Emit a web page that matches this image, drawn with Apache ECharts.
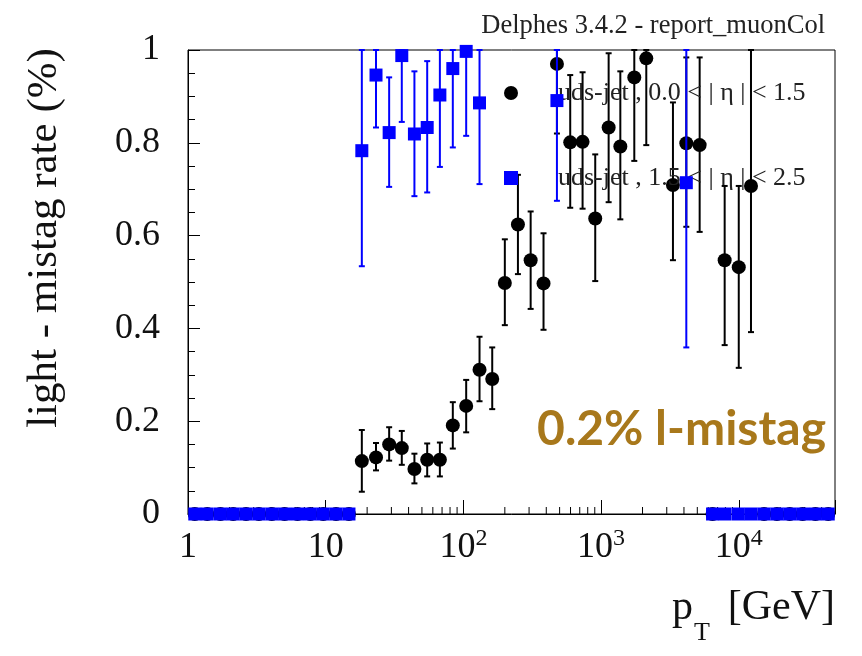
<!DOCTYPE html>
<html>
<head>
<meta charset="utf-8">
<script src="https://cdn.jsdelivr.net/npm/echarts@6/dist/echarts.min.js"></script>
<style>
  html, body { margin: 0; padding: 0; background: #fff; }
  #chart { width: 862px; height: 656px; }
</style>
</head>
<body>
<div id="chart"></div>
<script>
/* ---------------------------- data from the plot --------------------------- */
// uds-jet, 0.0 < |eta| < 1.5  (black circles)
const blackPt = [18.3, 23.2, 28.9, 35.7, 44.1, 54.6, 67.5, 83.8, 104.8, 131, 162, 200, 249, 308, 382, 478, 597, 734, 907, 1135, 1380, 1743, 2130, 3327, 4160, 5200, 7900, 10000, 12270];
const blackRate = [0.114, 0.122, 0.150, 0.142, 0.097, 0.117, 0.117, 0.191, 0.233, 0.311, 0.291, 0.498, 0.624, 0.547, 0.497, 0.970, 0.801, 0.802, 0.637, 0.833, 0.792, 0.941, 0.982, 0.709, 0.799, 0.795, 0.547, 0.532, 0.707];
const blackLow = [0.048, 0.094, 0.115, 0.106, 0.066, 0.081, 0.081, 0.141, 0.176, 0.243, 0.226, 0.407, 0.517, 0.442, 0.397, 0.820, 0.660, 0.658, 0.502, 0.672, 0.635, 0.761, 0.795, 0.547, 0.619, 0.608, 0.364, 0.315, 0.392];
const blackHigh = [0.181, 0.153, 0.187, 0.179, 0.130, 0.152, 0.154, 0.241, 0.289, 0.382, 0.359, 0.592, 0.731, 0.652, 0.605, 1.0, 0.946, 0.952, 0.775, 0.993, 0.954, 1.0, 1.0, 0.887, 0.984, 0.984, 0.707, 0.707, 1.0];
const blackZeroPt = [1.12, 1.38, 1.72, 2.13, 2.64, 3.27, 4.06, 5.03, 6.24, 7.74, 9.6, 11.9, 14.76, 6450, 15270, 18930, 23440, 29100, 36060, 44680];

// uds-jet, 1.5 < |eta| < 2.5  (blue squares)
const bluePt = [18.3, 23.2, 28.9, 35.7, 44.1, 54.6, 67.5, 83.8, 104.8, 131, 478, 4160];
const blueRate = [0.783, 0.946, 0.822, 0.988, 0.819, 0.833, 0.903, 0.960, 0.997, 0.886, 0.891, 0.714];
const blueLow = [0.534, 0.833, 0.705, 0.845, 0.685, 0.693, 0.748, 0.790, 0.815, 0.711, 0.675, 0.359];
const blueHigh = [1.0, 1.0, 0.941, 1.0, 0.954, 0.976, 1.0, 1.0, 1.0, 1.0, 1.0, 1.0];
const blueZeroPt = [1.12, 1.38, 1.72, 2.13, 2.64, 3.27, 4.06, 5.03, 6.24, 7.74, 9.6, 11.9, 14.76, 6450, 7960, 9930, 12300, 15270, 18930, 23440, 29100, 36060, 44680];

const seriesNames = ['uds-jet , 0.0 < | \u03b7 | < 1.5', 'uds-jet , 1.5 < | \u03b7 | < 2.5'];

const xTickVals = [1, 10, 100, 1000, 10000];
const xTickLabels = ['{b|1}', '{b|10}', '{b|10}{s|2}', '{b|10}{s|3}', '{b|10}{s|4}'];
const xMinorTicks = [2, 3, 4, 5, 6, 7, 8, 9, 20, 30, 40, 50, 60, 70, 80, 90, 200, 300, 400, 500, 600, 700, 800, 900,
  2000, 3000, 4000, 5000, 6000, 7000, 8000, 9000, 20000, 30000, 40000];

/* -------------------------------------------------------------------------- */
const serif = 'Liberation Serif';
const chart = echarts.init(document.getElementById('chart'));

const points = (xs, ys) => xs.map((x, i) => [x, ys[i]]);
const bars = (xs, lo, hi) => xs.map((x, i) => [x, lo[i], hi[i]]);
const zeros = xs => xs.map(x => [x, 0]);

const errorBar = color => (params, api) => {
  const x = api.value(0);
  const lo = api.coord([x, api.value(1)]);
  const hi = api.coord([x, api.value(2)]);
  const style = { stroke: color, lineWidth: 2 };
  const cap = 3;
  return {
    type: 'group',
    children: [
      { type: 'line', shape: { x1: lo[0], y1: lo[1], x2: hi[0], y2: hi[1] }, style },
      { type: 'line', shape: { x1: lo[0] - cap, y1: lo[1], x2: lo[0] + cap, y2: lo[1] }, style },
      { type: 'line', shape: { x1: hi[0] - cap, y1: hi[1], x2: hi[0] + cap, y2: hi[1] }, style },
    ],
  };
};

const option = {
  animation: false,
  backgroundColor: '#fff',
  title: {
    text: 'Delphes 3.4.2 - report_muonCol',
    right: 32,
    top: 8,
    textStyle: { fontFamily: serif, fontSize: 26.5, fontWeight: 'normal', color: '#222' },
  },
  legend: {
    orient: 'vertical',
    left: 499,
    top: 73,
    itemGap: 55,
    itemWidth: 14,
    itemHeight: 14,
    selectedMode: false,
    data: [
      { name: seriesNames[0], icon: 'circle' },
      { name: seriesNames[1], icon: 'rect' },
    ],
    textStyle: { fontFamily: serif, fontSize: 26, lineHeight: 30, color: '#222', padding: [0, 0, 0, 35] },
  },
  grid: {
    left: 188, right: 27, top: 50, bottom: 142,
    show: true, borderColor: '#000', borderWidth: 1,
  },
  xAxis: {
    type: 'log',
    logBase: 10,
    min: 1,
    max: 50000,
    axisLine: { lineStyle: { color: '#000', width: 1 } },
    axisTick: { inside: true, length: 14, lineStyle: { color: '#000' } },
    splitLine: { show: false },
    axisLabel: {
      margin: 13,
      color: '#111',
      formatter: v => {
        const i = xTickVals.findIndex(t => Math.abs(t - v) / t < 1e-6);
        return i < 0 ? '' : xTickLabels[i];
      },
      rich: {
        b: { fontFamily: serif, fontSize: 36, lineHeight: 42, color: '#111' },
        s: { fontFamily: serif, fontSize: 24, lineHeight: 24, verticalAlign: 'top', color: '#111' },
      },
    },
  },
  yAxis: {
    type: 'value',
    min: 0,
    max: 1,
    interval: 0.2,
    axisLine: { show: true, lineStyle: { color: '#000', width: 1 } },
    axisTick: { inside: true, length: 12, lineStyle: { color: '#000' } },
    minorTick: { show: true, splitNumber: 4, length: 7, lineStyle: { color: '#000' } },
    splitLine: { show: false },
    axisLabel: { margin: 28, fontFamily: serif, fontSize: 36, color: '#111' },
  },
  graphic: [
    {
      type: 'text', x: 45, y: 238, rotation: Math.PI / 2,
      style: { text: 'light - mistag rate (%)', font: '43px "Liberation Serif"', fill: '#111', align: 'center', verticalAlign: 'middle' },
    },
    {
      type: 'text', x: 835, y: 608,
      style: { text: '[GeV]', font: '42px "Liberation Serif"', fill: '#111', align: 'right', verticalAlign: 'middle' },
    },
    {
      type: 'text', x: 693, y: 608,
      style: { text: 'p', font: '42px "Liberation Serif"', fill: '#111', align: 'right', verticalAlign: 'middle' },
    },
    {
      type: 'text', x: 694, y: 633,
      style: { text: 'T', font: '26px "Liberation Serif"', fill: '#111', align: 'left', verticalAlign: 'middle' },
    },
    {
      type: 'text', x: 826, y: 430,
      style: { text: '0.2% l-mistag', font: 'bold 48px Lato', fill: '#A8781B', align: 'right', verticalAlign: 'middle' },
    },
  ],
  series: [
    {
      name: 'minor-ticks',
      type: 'custom',
      silent: true,
      data: xMinorTicks.map(v => [v, 0]),
      renderItem: (params, api) => {
        const p = api.coord([api.value(0), 0]);
        return { type: 'line', shape: { x1: p[0], y1: p[1], x2: p[0], y2: p[1] - 7 }, style: { stroke: '#000', lineWidth: 1 } };
      },
      z: 1,
    },
    {
      name: 'black-err',
      type: 'custom',
      data: bars(blackPt, blackLow, blackHigh),
      encode: { x: 0, y: [1, 2] },
      renderItem: errorBar('#000'),
      z: 2,
    },
    {
      name: seriesNames[0],
      type: 'scatter',
      clip: false,
      symbol: 'circle',
      symbolSize: 14,
      itemStyle: { color: '#000', opacity: 1 },
      data: points(blackPt, blackRate).concat(zeros(blackZeroPt)),
      z: 3,
    },
    {
      name: 'blue-err',
      type: 'custom',
      data: bars(bluePt, blueLow, blueHigh),
      encode: { x: 0, y: [1, 2] },
      renderItem: errorBar('#0000ff'),
      z: 4,
    },
    {
      name: seriesNames[1],
      type: 'scatter',
      clip: false,
      symbol: 'rect',
      symbolSize: 13,
      itemStyle: { color: '#0000ff', opacity: 1 },
      data: points(bluePt, blueRate).concat(zeros(blueZeroPt)),
      z: 5,
    },
  ],
};

chart.setOption(option);
</script>
</body>
</html>
